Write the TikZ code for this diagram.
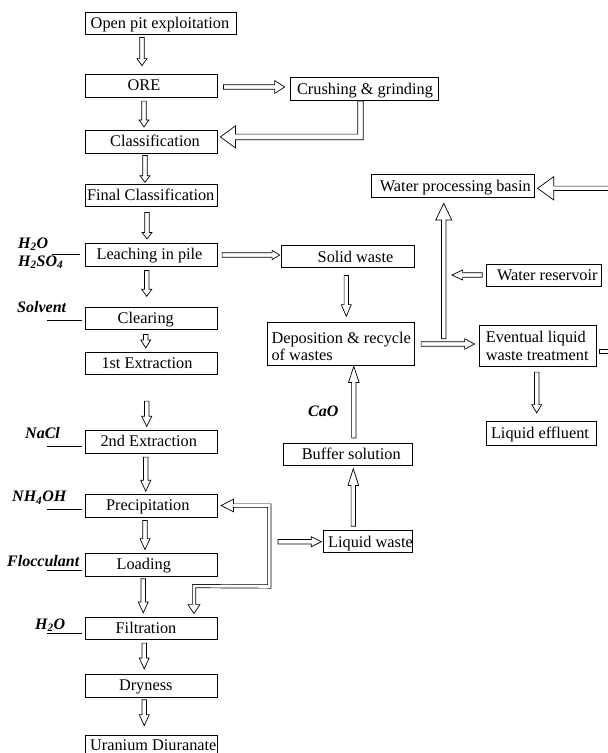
\documentclass[tikz,border=0pt]{standalone}
\usepackage{fontspec}
\setmainfont{Liberation Serif}
\usetikzlibrary{calc}
\tikzset{
  box/.style={draw, line width=0.8pt, inner sep=0pt},
  txt/.style={anchor=base, inner sep=0pt, font=\fontsize{16.3}{17}\selectfont},
  txtl/.style={anchor=base west, inner sep=0pt, font=\fontsize{16.3}{17}\selectfont},
  chem/.style={anchor=base west, inner sep=0pt, font=\fontsize{16}{17}\selectfont\bfseries\itshape},
  arr/.style={draw, fill=white, line width=0.7pt, line join=miter},
  dblthin/.style={draw, double=white, double distance=2.6pt, line width=0.7pt, line join=miter},
  feed/.style={draw, line width=0.8pt},
}
\def\sw{2.2}
% straight hollow arrow: from, to, head half width, head length
\newcommand\harr[4]{%
  \path[arr] let \p1=#1, \p2=#2,
     \n1={atan2(\y2-\y1,\x2-\x1)},
     \n2={veclen(\x2-\x1,\y2-\y1)} in
     ([shift={(\p1)},rotate=\n1]0pt,-\sw pt) --
     ([shift={(\p1)},rotate=\n1]\n2-#4pt,-\sw pt) --
     ([shift={(\p1)},rotate=\n1]\n2-#4pt,-#3pt) --
     ([shift={(\p1)},rotate=\n1]\n2,0pt) --
     ([shift={(\p1)},rotate=\n1]\n2-#4pt,#3pt) --
     ([shift={(\p1)},rotate=\n1]\n2-#4pt,\sw pt) --
     ([shift={(\p1)},rotate=\n1]0pt,\sw pt) -- cycle;}
% open arrow head: tip, angle, head half width, head length, shaft half width
\newcommand\ahead[5]{%
  \path[arr] ([shift={#1},rotate=#2]-#4pt,#5pt) -- ([shift={#1},rotate=#2]-#4pt,#3pt) --
    ([shift={#1},rotate=#2]0pt,0pt) -- ([shift={#1},rotate=#2]-#4pt,-#3pt) --
    ([shift={#1},rotate=#2]-#4pt,-#5pt);}
\newcommand\bx[5]{\node[box, minimum width=#4pt, minimum height=#5pt] (#1) at (#2,#3) {};}

\begin{document}
\begin{tikzpicture}[x=1pt,y=-1pt]
\useasboundingbox (0,0) rectangle (608,753);

% ---------- boxes ----------
\bx{open}{160.5}{23.3}{151}{22}
\bx{ore}{151.25}{85.5}{132.5}{23}
\bx{cls}{151.25}{141.5}{132.5}{23}
\bx{fcls}{151.25}{195}{132.5}{22}
\bx{leach}{151.25}{254.5}{132.5}{23}
\bx{clr}{151.25}{318}{132.5}{22}
\bx{ex1}{151.25}{363}{132.5}{22}
\bx{ex2}{151.25}{441.5}{132.5}{23}
\bx{prec}{151.25}{505.5}{132.5}{23}
\bx{load}{151.25}{564.5}{132.5}{23}
\bx{filt}{151.25}{628}{132.5}{22}
\bx{dry}{151.25}{685.5}{132.5}{23}
\bx{ura}{151.25}{746.5}{132.5}{23}
\bx{crush}{364}{88.75}{148}{23.5}
\bx{solid}{347.5}{256.7}{133}{22}
\bx{dep}{340.8}{343.85}{147}{42.3}
\bx{buf}{347.5}{454.15}{129}{21.7}
\bx{liq}{367.65}{541.7}{88.7}{22}
\bx{wpb}{452.65}{185.85}{163.3}{23.7}
\bx{res}{543.85}{275.5}{115.7}{22.4}
\bx{evt}{537.85}{345.85}{117.7}{40.3}
\bx{eff}{541.7}{433.35}{110}{23.3}

% ---------- box texts ----------
\node[txt] (openT) at ($(open)+(-0.5,5.3)$) {Open pit exploitation};
\node[txt] (oreT) at ($(ore)+(-7.25,5.3)$) {ORE};
\node[txt] (clsT) at ($(cls)+(3.75,5.3)$) {Classification};
\node[txt] (fclsT) at ($(fcls)+(-0.5,5.3)$) {Final Classification};
\node[txt] (leachT) at ($(leach)+(-1.75,5.3)$) {Leaching in pile};
\node[txt] (clrT) at ($(clr)+(-5.5,5.3)$) {Clearing};
\node[txt] (ex1T) at ($(ex1)+(-4.25,5.3)$) {1st Extraction};
\node[txt] (ex2T) at ($(ex2)+(-2.5,5.3)$) {2nd Extraction};
\node[txt] (precT) at ($(prec)+(-3.5,5.3)$) {Precipitation};
\node[txt] (loadT) at ($(load)+(-7.5,5.3)$) {Loading};
\node[txt] (filtT) at ($(filt)+(-5.25,5.3)$) {Filtration};
\node[txt] (dryT) at ($(dry)+(-5.5,5.3)$) {Dryness};
\node[txt] (uraT) at ($(ura)+(2.05,4)$) {Uranium Diuranate};
\node[txt] (crushT) at ($(crush)+(1,5.3)$) {Crushing \& grinding};
\node[txt] (solidT) at ($(solid)+(8,5.3)$) {Solid waste};
\node[txt] (wpbT) at ($(wpb)+(2.65,5.3)$) {Water processing basin};
\node[txt] (resT) at ($(res)+(3.45,5.3)$) {Water reservoir};
\node[txt] (effT) at ($(eff)+(-1.7,5.3)$) {Liquid effluent};
\node[txt] (bufT) at ($(buf)+(3.8,5.3)$) {Buffer solution};
\node[txt] (liqT) at ($(liq)+(2.85,5.3)$) {Liquid waste};
\node[txtl] (depT1) at ($(dep.west)+(4.4,-0.55)$) {Deposition \& recycle};
\node[txtl] (depT2) at ($(dep.west)+(4.4,16.15)$) {of wastes};
\node[txtl] (evtT1) at ($(evt.west)+(7,-3.35)$) {Eventual liquid};
\node[txtl] (evtT2) at ($(evt.west)+(7,14.15)$) {waste treatment};

% ---------- reagent labels ----------
\node[chem] (h2oA) at (18,248.3) {H\textsubscript{2}O};
\node[chem] (h2so4) at (18,266) {H\textsubscript{2}SO\textsubscript{4}};
\node[chem] (solv) at (17,312.7) {Solvent};
\node[chem] (nacl) at (25,438.3) {NaCl};
\node[chem] (nh4oh) at (12,501.7) {NH\textsubscript{4}OH};
\node[chem] (floc) at (7,566) {Flocculant};
\node[chem] (h2oB) at (35,629.3) {H\textsubscript{2}O};
\node[chem] (cao) at (308,416.7) {CaO};

\coordinate (f1) at (52,254);
\coordinate (f2) at (47,320.7);
\coordinate (f3) at (47,446);
\coordinate (f4) at (47,509.3);
\coordinate (f5) at (47,570.7);
\coordinate (f6) at (47,633.3);
\draw[feed] (f1) -- ($(f1 -| leach.west)+(-5,0)$);
\draw[feed] (f2) -- ($(f2 -| clr.west)+(-3,0)$);
\draw[feed] (f3) -- ($(f3 -| ex2.west)+(-3,0)$);
\draw[feed] (f4) -- ($(f4 -| prec.west)+(-3,0)$);
\draw[feed] (f5) -- ($(f5 -| load.west)+(-3,0)$);
\draw[feed] (f6) -- ($(f6 -| filt.west)+(-3,0)$);

% ---------- main column arrows ----------
\harr{($(open.south)+(-18.5,2.7)$)}{($(ore.north)+(-9.25,-8)$)}{5}{7}
\harr{($(ore.south)+(-7.25,3.7)$)}{($(cls.north)+(-7.25,-2.7)$)}{5}{7}
\harr{($(cls.south)+(-6.25,2)$)}{($(fcls.north)+(-6.25,-1.3)$)}{5}{6.5}
\harr{($(fcls.south)+(-4.25,6)$)}{($(leach.north)+(-4.25,-3.7)$)}{5}{6.5}
\harr{($(leach.south)+(-4.5,4)$)}{($(clr.north)+(-4.5,-10.3)$)}{5}{7}
\harr{($(clr.south)+(-5.5,5)$)}{($(ex1.north)+(-5.5,-3.7)$)}{5}{8}
\harr{($(ex1.south)+(-4.5,26.7)$)}{($(ex2.north)+(-4.5,-3.3)$)}{5}{10}
\harr{($(ex2.south)+(-5.5,3.7)$)}{($(prec.north)+(-5.5,-2.3)$)}{5}{11}
\harr{($(prec.south)+(-6.25,3)$)}{($(load.north)+(-6.25,-3)$)}{5}{11}
\harr{($(load.south)+(-8,2.3)$)}{($(filt.north)+(-8,-3.7)$)}{5}{11}
\harr{($(filt.south)+(-7,3.7)$)}{($(dry.north)+(-7,-4.7)$)}{5}{11}
\harr{($(dry.south)+(-7,2.3)$)}{($(ura.north)+(-7,-9)$)}{5}{11}

% ---------- side arrows ----------
\harr{($(ore.east)+(5.5,1.5)$)}{($(crush.west)+(-5,-1.75)$)}{6.5}{10}
\harr{($(leach.east)+(4.2,0.5)$)}{($(solid.west)+(-1,-1.7)$)}{4.7}{7.5}
\harr{($(solid.south)+(-1.2,7.3)$)}{($(dep.north)+(5.5,-6)$)}{5}{11.7}
\harr{($(dep.east)+(6.4,0.15)$)}{($(evt.west)+(-4,-1.85)$)}{5.3}{10}
\harr{($(res.west)+(-3.3,-0.5)$)}{($(res.west)+(-33.7,-0.5)$)}{5}{10.7}
\harr{($(wpb.south)+(-8.9,140.6)$)}{($(wpb.south)+(-8.9,5.3)$)}{8}{16.6}
\harr{($(evt.south)+(-1.15,5.7)$)}{($(eff.north)+(-5,-8.4)$)}{5}{8.3}
\harr{($(wpb.east)+(90,2.45)$)}{($(wpb.east)+(3,2.45)$)}{11.7}{16}
\harr{($(buf.north)+(6.3,-5)$)}{($(dep.south)+(13,1)$)}{5.3}{16}
\harr{($(liq.north)+(-14.35,-4)$)}{($(buf.south)+(5.8,3.3)$)}{5.3}{16.7}
\harr{($(liq.west)+(-45,0)$)}{($(liq.west)+(-1.6,0)$)}{5}{10}

% stub leaving the treatment box to the right
\path[arr] ($(evt.east)+(15,3.85)$) -- ($(evt.east)+(1.8,3.85)$) -- ($(evt.east)+(1.8,7.85)$) -- ($(evt.east)+(15,7.85)$);

% ---------- elbow arrow: crushing -> classification ----------
\coordinate (k1) at ($(crush.south)+(-3.5,36)$);
\coordinate (k1b) at ($(cls.east |- k1)+(17.5,0)$);
\coordinate (k1t) at ($(cls.east |- k1)+(2.5,0)$);
\path[arr] ($(crush.south)+(-6.3,0)$) -- ($(crush.south)+(-0.7,0)$)
  -- ($(k1)+(2.8,2.8)$) -- ($(k1b)+(0,2.8)$) -- ($(k1b)+(0,11)$) -- (k1t)
  -- ($(k1b)+(0,-11)$) -- ($(k1b)+(0,-2.8)$) -- ($(k1)+(-2.8,-2.8)$) -- cycle;

% ---------- elbow arrow: feedback loop ----------
\coordinate (k2a) at ($(prec.east)+(15.5,0)$);
\coordinate (k2) at ($(prec.east)+(51.5,0)$);
\coordinate (k3) at ($(k2)+(0,81)$);
\coordinate (k4) at ($(filt.north)+(42.75,-30.5)$);
\coordinate (k5) at ($(filt.north)+(42.75,-12)$);
\draw[dblthin] (k2a) -- (k2) -- (k3) -- (k4) -- (k5);
\ahead{($(prec.east)+(3.2,0)$)}{180}{6.3}{12.3}{1.65}
\ahead{($(filt.north)+(42.75,-3)$)}{-90}{6}{9}{1.65}
\end{tikzpicture}
\end{document}
